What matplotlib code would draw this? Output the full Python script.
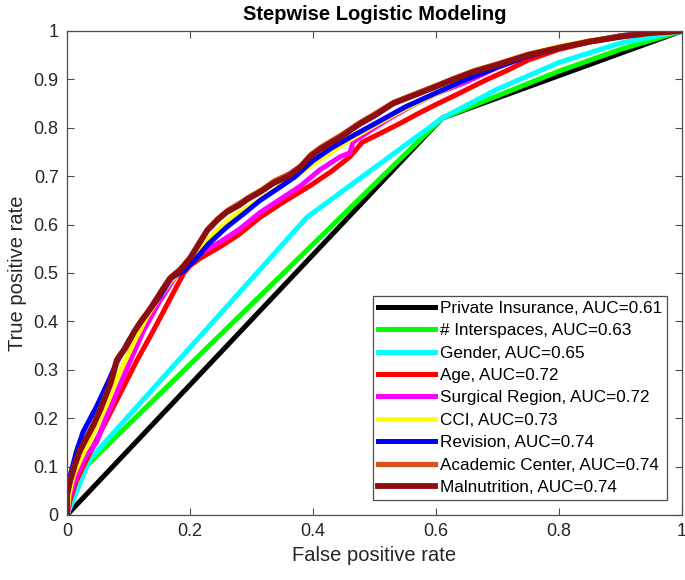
import matplotlib
matplotlib.use("Agg")
import matplotlib.pyplot as plt

plt.rcParams['font.family'] = ['Liberation Sans', 'DejaVu Sans']

# ROC curves (false positive rate, true positive rate)
private_fpr = [0, 0.61, 1]
private_tpr = [0, 0.82, 1]

inter_fpr = [0, 0.03, 0.61, 0.7, 0.8, 0.9, 1]
inter_tpr = [0, 0.10, 0.82, 0.866, 0.917, 0.962, 1]

gender_fpr = [0, 0.037, 0.39, 0.61, 0.7, 0.8, 0.9, 1]
gender_tpr = [0, 0.115, 0.615, 0.82, 0.88, 0.935, 0.975, 1]

age_fpr = [0, 0.005, 0.015, 0.03, 0.05, 0.07, 0.09, 0.114, 0.14, 0.165, 0.19, 0.2, 0.216,
           0.25, 0.28, 0.314, 0.35, 0.395, 0.43, 0.46, 0.48, 0.504, 0.54, 0.569, 0.6,
           0.639, 0.68, 0.715, 0.75, 0.8, 0.85, 0.9, 0.95, 1]
age_tpr = [0, 0.03, 0.07, 0.11, 0.16, 0.21, 0.26, 0.32, 0.38, 0.44, 0.5, 0.515, 0.53,
           0.555, 0.58, 0.615, 0.645, 0.68, 0.71, 0.74, 0.77, 0.785, 0.808, 0.828, 0.848,
           0.872, 0.898, 0.918, 0.94, 0.962, 0.977, 0.988, 0.996, 1]

surg_fpr = [0, 0.005, 0.015, 0.03, 0.048, 0.06, 0.08, 0.1, 0.124, 0.15, 0.175, 0.19, 0.216,
            0.25, 0.28, 0.314, 0.35, 0.38, 0.411, 0.444, 0.46, 0.465, 0.476, 0.5, 0.52,
            0.56, 0.6, 0.65, 0.7, 0.75, 0.8, 0.85, 0.9, 0.95, 1]
surg_tpr = [0, 0.04, 0.08, 0.12, 0.15, 0.19, 0.25, 0.31, 0.38, 0.44, 0.49, 0.51, 0.54,
            0.565, 0.59, 0.625, 0.655, 0.68, 0.713, 0.74, 0.748, 0.77, 0.78, 0.8, 0.816,
            0.845, 0.87, 0.895, 0.925, 0.95, 0.967, 0.979, 0.99, 0.997, 1]

cci_fpr = [0, 0.003, 0.01, 0.02, 0.035, 0.05, 0.065, 0.08, 0.095, 0.11, 0.13, 0.15, 0.17,
           0.19, 0.21, 0.23, 0.265, 0.3, 0.33, 0.36, 0.4, 0.43, 0.46, 0.5, 0.55, 0.6,
           0.65, 0.7, 0.75, 0.8, 0.85, 0.9, 0.95, 1]
cci_tpr = [0, 0.04, 0.08, 0.11, 0.15, 0.19, 0.23, 0.28, 0.32, 0.36, 0.41, 0.45, 0.485,
           0.51, 0.54, 0.57, 0.612, 0.64, 0.665, 0.69, 0.725, 0.75, 0.775, 0.805, 0.84,
           0.87, 0.9, 0.928, 0.952, 0.968, 0.98, 0.99, 0.997, 1]

rev_fpr = [0, 0, 0.005, 0.015, 0.026, 0.048, 0.065, 0.081, 0.1, 0.12, 0.15, 0.17, 0.19,
           0.21, 0.23, 0.26, 0.29, 0.314, 0.34, 0.37, 0.4, 0.43, 0.46, 0.5, 0.55, 0.6,
           0.65, 0.7, 0.75, 0.8, 0.85, 0.9, 0.95, 1]
rev_tpr = [0, 0.06, 0.08, 0.13, 0.171, 0.224, 0.27, 0.315, 0.36, 0.4, 0.45, 0.49, 0.505,
           0.53, 0.56, 0.595, 0.625, 0.65, 0.672, 0.698, 0.732, 0.758, 0.78, 0.808, 0.843,
           0.872, 0.9, 0.925, 0.948, 0.965, 0.978, 0.99, 0.997, 1]

acad_fpr = [0, 0, 0.006, 0.013, 0.022, 0.032, 0.044, 0.057, 0.072, 0.083, 0.097, 0.112,
            0.121, 0.137, 0.152, 0.169, 0.186, 0.202, 0.213, 0.23, 0.247, 0.262, 0.282,
            0.295, 0.317, 0.337, 0.362, 0.381, 0.397, 0.413, 0.446, 0.478, 0.502, 0.532,
            0.562, 0.602, 0.625, 0.662, 0.7, 0.75, 0.8, 0.85, 0.9, 0.95, 1]
acad_tpr = [0, 0.045, 0.075, 0.105, 0.135, 0.16, 0.19, 0.228, 0.275, 0.325, 0.35, 0.385,
            0.402, 0.43, 0.46, 0.492, 0.51, 0.535, 0.558, 0.592, 0.614, 0.63, 0.645, 0.656,
            0.672, 0.69, 0.705, 0.722, 0.745, 0.76, 0.785, 0.812, 0.83, 0.853, 0.868,
            0.888, 0.9, 0.918, 0.932, 0.952, 0.966, 0.979, 0.989, 0.996, 1]

maln_fpr = [0, 0, 0.005, 0.012, 0.02, 0.03, 0.042, 0.055, 0.07, 0.081, 0.095, 0.11, 0.119,
            0.135, 0.15, 0.167, 0.184, 0.2, 0.211, 0.228, 0.245, 0.26, 0.28, 0.293, 0.315,
            0.335, 0.36, 0.379, 0.395, 0.411, 0.444, 0.476, 0.5, 0.53, 0.56, 0.6, 0.623,
            0.66, 0.7, 0.75, 0.8, 0.85, 0.9, 0.95, 1]
maln_tpr = [0, 0.04, 0.07, 0.1, 0.13, 0.155, 0.183, 0.22, 0.27, 0.32, 0.345, 0.38, 0.397,
            0.425, 0.455, 0.488, 0.506, 0.53, 0.553, 0.588, 0.61, 0.626, 0.64, 0.652, 0.668,
            0.685, 0.7, 0.718, 0.74, 0.755, 0.78, 0.808, 0.825, 0.85, 0.865, 0.885, 0.897,
            0.915, 0.93, 0.95, 0.965, 0.978, 0.988, 0.996, 1]

labels = ["Private Insurance, AUC=0.61", "# Interspaces, AUC=0.63", "Gender, AUC=0.65",
          "Age, AUC=0.72", "Surgical Region, AUC=0.72", "CCI, AUC=0.73",
          "Revision, AUC=0.74", "Academic Center, AUC=0.74", "Malnutrition, AUC=0.74"]
colors = ["#000000", "#00ff00", "#00ffff", "#ff0000", "#ff00ff", "#ffff00",
          "#0000ff", "#d95319", "#8b0f0f"]
widths = [3.6, 3.6, 3.6, 3.6, 3.6, 3.6, 3.6, 3.8, 4.2]

curves = [(private_fpr, private_tpr), (inter_fpr, inter_tpr), (gender_fpr, gender_tpr),
          (age_fpr, age_tpr), (surg_fpr, surg_tpr), (cci_fpr, cci_tpr),
          (rev_fpr, rev_tpr), (acad_fpr, acad_tpr), (maln_fpr, maln_tpr)]

axcol = "#4d4d4d"

fig = plt.figure(figsize=(6.85, 5.8), dpi=100)
ax = fig.add_axes([0.0978, 0.1121, 0.8978, 0.8345])

for (x, y), lab, c, w in zip(curves, labels, colors, widths):
    ax.plot(x, y, color=c, lw=w, label=lab, solid_joinstyle="round")

ax.set_xlim(0, 1)
ax.set_ylim(0, 1)
ax.set_xticks([0, 0.2, 0.4, 0.6, 0.8, 1])
ax.set_xticklabels(["0", "0.2", "0.4", "0.6", "0.8", "1"])
ax.set_yticks([i / 10 for i in range(11)])
ax.set_yticklabels(["0", "0.1", "0.2", "0.3", "0.4", "0.5", "0.6", "0.7", "0.8", "0.9", "1"])
ax.tick_params(direction="in", top=True, right=True, length=5, width=0.8,
               labelsize=13, color=axcol, labelcolor="#262626", pad=6)
for s in ax.spines.values():
    s.set_color(axcol)
    s.set_linewidth(0.9)

ax.set_xlabel("False positive rate", fontsize=14.5, color="#262626", labelpad=4)
ax.set_ylabel("True positive rate", fontsize=14.5, color="#262626", labelpad=5)
ax.set_title("Stepwise Logistic Modeling", fontsize=14.5, fontweight="bold", pad=8)

leg = ax.legend(loc="lower right", bbox_to_anchor=(0.976, 0.031), borderaxespad=0,
                fontsize=12.3, handlelength=3.3, handletextpad=0.3, labelspacing=0.43,
                fancybox=False, framealpha=1, edgecolor=axcol, borderpad=0.3)
leg.get_frame().set_linewidth(0.9)

fig.savefig("out.png", dpi=100)
